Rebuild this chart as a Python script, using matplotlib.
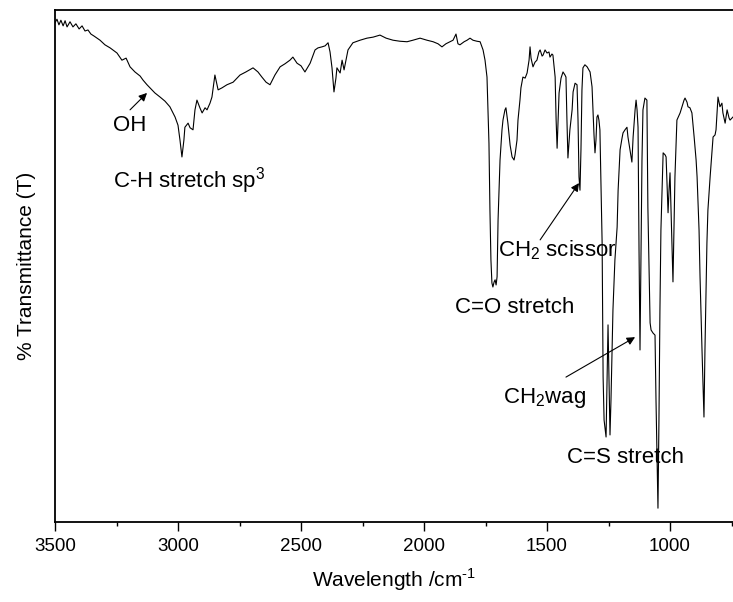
import numpy as np
import matplotlib
matplotlib.use('Agg')
from matplotlib import pyplot as plt

plt.rcParams['font.family'] = ['Liberation Sans', 'DejaVu Sans']
plt.rcParams['mathtext.fontset'] = 'custom'
plt.rcParams['mathtext.rm'] = 'Liberation Sans'

# wavenumber (cm-1) and transmittance (%)
wavenumber = [
    3500, 3492, 3484, 3476, 3467, 3459, 3451, 3439, 3427, 3415, 3402, 3390, 3378, 3366, 3354, 3341,
    3317, 3297, 3276, 3248, 3228, 3211, 3195, 3175, 3154, 3142, 3126, 3114, 3094, 3073, 3053, 3033,
    3012, 3000, 2992, 2984, 2976, 2972, 2959, 2951, 2939, 2931, 2923, 2911, 2902, 2890, 2882, 2870,
    2862, 2850, 2837, 2821, 2801, 2776, 2748, 2724, 2695, 2675, 2659, 2642, 2626, 2606, 2585, 2565,
    2545, 2533, 2516, 2500, 2484, 2463, 2443, 2431, 2415, 2402, 2390, 2382, 2374, 2366, 2358, 2354,
    2341, 2333, 2325, 2309, 2289, 2260, 2232, 2207, 2179, 2154, 2126, 2098, 2069, 2045, 2016, 1988,
    1963, 1943, 1927, 1911, 1894, 1882, 1870, 1862, 1854, 1837, 1825, 1813, 1801, 1785, 1772, 1760,
    1752, 1744, 1740, 1736, 1732, 1728, 1724, 1720, 1715, 1711, 1707, 1703, 1699, 1691, 1683, 1679,
    1671, 1667, 1659, 1650, 1642, 1634, 1630, 1622, 1618, 1610, 1606, 1598, 1589, 1581, 1573, 1569,
    1565, 1557, 1549, 1541, 1533, 1528, 1520, 1516, 1508, 1500, 1492, 1488, 1480, 1476, 1467, 1463,
    1459, 1455, 1451, 1443, 1435, 1427, 1423, 1419, 1415, 1407, 1398, 1394, 1386, 1378, 1374, 1370,
    1366, 1362, 1358, 1354, 1346, 1337, 1325, 1317, 1313, 1309, 1305, 1301, 1297, 1293, 1289, 1285,
    1281, 1276, 1272, 1268, 1260, 1256, 1252, 1248, 1244, 1240, 1232, 1224, 1215, 1211, 1203, 1195,
    1191, 1183, 1175, 1171, 1163, 1155, 1150, 1142, 1138, 1134, 1130, 1126, 1122, 1118, 1114, 1110,
    1102, 1094, 1090, 1081, 1077, 1069, 1061, 1057, 1049, 1045, 1041, 1037, 1028, 1020, 1016, 1008,
    1004, 1000, 996, 988, 984, 980, 972, 959, 947, 943, 939, 931, 927, 919, 911, 902,
    894, 890, 882, 878, 870, 862, 858, 850, 846, 837, 829, 825, 817, 813, 809, 805,
    797, 789, 785, 776, 768, 760, 756, 744,
]
transmittance = [
    97.5, 98.2, 97.1, 98.0, 96.9, 97.9, 96.7, 97.7, 96.7, 97.3, 96.3, 96.9, 95.9, 96.1, 95.3, 94.9,
    94.1, 93.2, 92.6, 91.6, 90.2, 90.6, 88.9, 87.9, 87.1, 86.3, 85.4, 84.8, 83.8, 83.0, 82.2, 81.1,
    79.1, 77.5, 74.6, 71.3, 74.6, 77.1, 77.9, 77.0, 76.6, 80.5, 82.4, 80.9, 79.9, 80.9, 80.5, 81.8,
    83.0, 87.3, 84.4, 84.8, 85.4, 85.9, 87.3, 87.9, 88.7, 87.9, 86.9, 85.9, 85.4, 87.3, 88.9, 89.5,
    90.2, 90.8, 89.6, 89.1, 87.9, 89.6, 92.2, 92.6, 92.8, 93.0, 93.6, 91.8, 88.7, 84.0, 86.7, 88.7,
    87.7, 90.2, 88.3, 92.2, 93.6, 94.1, 94.5, 94.7, 95.1, 94.5, 94.1, 93.9, 93.8, 94.1, 94.5, 94.1,
    93.8, 93.4, 92.8, 93.4, 93.8, 94.1, 95.3, 93.4, 93.2, 93.8, 94.1, 94.5, 94.1, 93.9, 93.8, 92.2,
    90.2, 86.9, 80.5, 74.0, 60.9, 51.2, 46.7, 45.9, 46.9, 47.3, 46.3, 47.9, 59.0, 70.7, 76.6, 78.5,
    80.5, 80.9, 77.9, 73.6, 71.3, 70.7, 71.7, 74.6, 78.5, 82.4, 84.8, 86.9, 86.7, 87.7, 90.2, 92.8,
    90.6, 88.9, 89.8, 90.2, 91.8, 92.2, 91.0, 91.2, 92.2, 91.6, 91.8, 90.8, 91.4, 91.2, 86.9, 78.5,
    73.0, 78.5, 83.8, 86.7, 87.9, 87.3, 86.9, 78.5, 71.1, 76.6, 80.5, 84.0, 85.7, 85.4, 78.5, 67.4,
    64.8, 72.7, 84.4, 88.7, 89.3, 88.9, 87.9, 85.0, 80.5, 75.6, 72.1, 74.6, 79.1, 79.5, 78.5, 76.6,
    66.8, 54.5, 28.3, 19.9, 16.6, 27.7, 38.5, 27.7, 17.0, 23.8, 41.4, 51.2, 57.6, 64.8, 72.7, 75.0,
    76.0, 76.6, 77.1, 75.2, 72.7, 70.3, 75.2, 80.5, 82.4, 80.5, 77.1, 53.1, 33.6, 53.1, 70.7, 80.5,
    82.8, 82.4, 61.5, 38.9, 37.5, 36.9, 36.5, 23.8, 2.7, 19.9, 41.4, 57.0, 72.1, 71.7, 71.3, 60.4,
    64.8, 68.2, 60.9, 46.9, 57.0, 67.4, 78.5, 79.9, 81.8, 82.4, 82.8, 82.0, 81.1, 80.9, 79.9, 75.2,
    70.7, 67.4, 57.0, 47.9, 33.6, 20.5, 33.6, 54.5, 60.9, 67.4, 72.7, 75.2, 75.6, 76.6, 79.9, 83.0,
    81.1, 81.8, 79.9, 77.9, 80.5, 78.9, 78.5, 79.1,
]

fig = plt.figure(figsize=(7.33, 6.02), dpi=100)
ax = fig.add_axes([55 / 733, 80 / 602, 678 / 733, 512 / 602])
ax.plot(wavenumber, transmittance, color='black', lw=0.8)
ax.set_xlim(3500, 744)
ax.set_ylim(0, 100)

ax.set_xticks(np.arange(3500, 744, -500))
ax.set_xticks(np.arange(3250, 744, -500), minor=True)
ax.tick_params(axis='x', which='major', direction='out', length=6.5, width=1, labelsize=13.5, pad=5)
ax.tick_params(axis='x', which='minor', direction='out', length=3, width=1)
ax.set_yticks([])
ax.spines['right'].set_visible(False)
for s in ['left', 'bottom', 'top']:
    ax.spines[s].set_linewidth(1.3)

ax.set_xlabel('Wavelength /cm$^{\u2010 1}$', fontsize=15, labelpad=8)
ax.set_ylabel('% Transmittance (T)', fontsize=15, labelpad=14)

arrow = dict(arrowstyle='-|>', color='black', lw=0.8, mutation_scale=12, shrinkA=0, shrinkB=0)
fs = 16
ax.annotate('', xy=(3126, 83.8), xytext=(3195, 80.5), arrowprops=arrow)
ax.text(3195, 77.5, 'OH', fontsize=fs, ha='center', va='center')
ax.text(3264, 65.4, 'C-H stretch sp$^3$', fontsize=fs, ha='left', va='baseline')
ax.text(1874, 40.8, 'C=O stretch', fontsize=fs, ha='left', va='baseline')
ax.annotate('', xy=(1370, 66.2), xytext=(1528, 55.1), arrowprops=arrow)
ax.text(1699, 51.8, 'CH$_2$ scissor', fontsize=fs, ha='left', va='baseline')
ax.annotate('', xy=(1142, 36.1), xytext=(1423, 28.3), arrowprops=arrow)
ax.text(1679, 23.2, 'CH$_2$wag', fontsize=fs, ha='left', va='baseline')
ax.text(1419, 11.5, 'C=S stretch', fontsize=fs, ha='left', va='baseline')

plt.savefig('out.png', dpi=100)
